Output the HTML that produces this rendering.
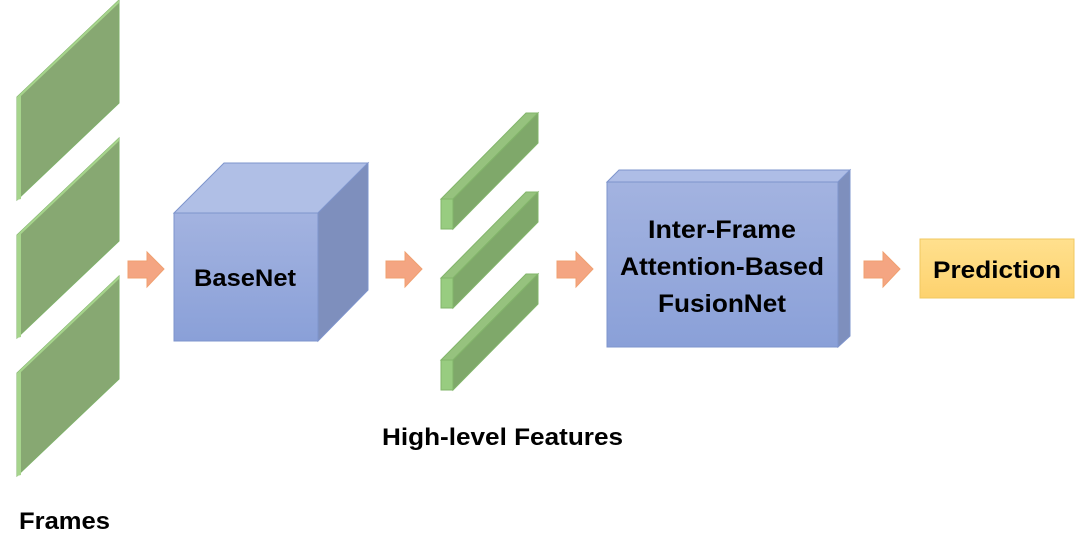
<!DOCTYPE html>
<html><head><meta charset="utf-8"><style>
html,body{margin:0;padding:0;background:#fff;width:1080px;height:556px;overflow:hidden}
text{font-family:"Liberation Sans",sans-serif;font-weight:bold;fill:#000}
</style></head><body>
<svg width="1080" height="556" viewBox="0 0 1080 556" xmlns="http://www.w3.org/2000/svg">
<defs>
<linearGradient id="bf" x1="0" y1="0" x2="0" y2="1"><stop offset="0" stop-color="#a3b3e0"/><stop offset="1" stop-color="#8aa0d8"/></linearGradient>
<linearGradient id="pg" x1="0" y1="0" x2="0" y2="1"><stop offset="0" stop-color="#ffe08e"/><stop offset="1" stop-color="#fdd26e"/></linearGradient>
<g id="frame">
<polygon points="17,97 119,0 119,103 17,200" fill="#87a872" stroke="#7fb06a" stroke-width="1"/>
<polygon points="17,97 21,95 21,199 17,200" fill="#a6d48c"/>
<polygon points="17,97 119,0 119,3 21,96" fill="#a6d48c"/>
</g>
<g id="bar">
<polygon points="441,199 526,113 538,113 453,199" fill="#96c27e" stroke="#82b56a" stroke-width="1"/>
<polygon points="453,199 538,113 538,143 453,229" fill="#7fa86a" stroke="#82b56a" stroke-width="1"/>
<rect x="441" y="199" width="12" height="30" fill="#98cc80" stroke="#82b56a" stroke-width="1"/>
</g>
<polygon id="arr" points="0,9 19,9 19,0 36,17 19,35 19,26 0,26" fill="#f4a582" stroke="#f0a070" stroke-width="1"/>
</defs>
<use href="#frame"/>
<use href="#frame" y="138"/>
<use href="#frame" y="276"/>

<use href="#arr" x="128" y="252"/>
<polygon points="174,213 224,163 368,163 318,213" fill="#b0bfe6" stroke="#7e94cc" stroke-width="1"/>
<polygon points="318,213 368,163 368,290 318,341" fill="#7e8fbd" stroke="#7e94cc" stroke-width="1"/>
<rect x="174" y="213" width="144" height="128" fill="url(#bf)" stroke="#7e94cc" stroke-width="1"/>
<text x="245" y="286" font-size="24" text-anchor="middle" textLength="102" lengthAdjust="spacingAndGlyphs">BaseNet</text>

<use href="#arr" x="386" y="252"/>
<use href="#bar"/>
<use href="#bar" y="79"/>
<use href="#bar" y="161"/>

<use href="#arr" x="557" y="252"/>
<polygon points="607,182 619,170 850,170 838,182" fill="#aebde6" stroke="#7e94cc" stroke-width="1"/>
<polygon points="838,182 850,170 850,336 838,347" fill="#7e8fbd" stroke="#7e94cc" stroke-width="1"/>
<rect x="607" y="182" width="231" height="165" fill="url(#bf)" stroke="#7e94cc" stroke-width="1"/>
<text x="722" y="238" font-size="25" text-anchor="middle" textLength="148" lengthAdjust="spacingAndGlyphs">Inter-Frame</text>
<text x="722" y="275" font-size="25" text-anchor="middle" textLength="204" lengthAdjust="spacingAndGlyphs">Attention-Based</text>
<text x="722" y="312" font-size="25" text-anchor="middle" textLength="128" lengthAdjust="spacingAndGlyphs">FusionNet</text>

<use href="#arr" x="864" y="252"/>
<rect x="920" y="239" width="154" height="59" fill="url(#pg)" stroke="#f0c860" stroke-width="1"/>
<text x="997" y="278" font-size="24" text-anchor="middle" textLength="128" lengthAdjust="spacingAndGlyphs">Prediction</text>

<text x="382" y="445" font-size="24" textLength="241" lengthAdjust="spacingAndGlyphs">High-level Features</text>
<text x="19" y="529" font-size="24" textLength="91" lengthAdjust="spacingAndGlyphs">Frames</text>
</svg>
</body></html>
